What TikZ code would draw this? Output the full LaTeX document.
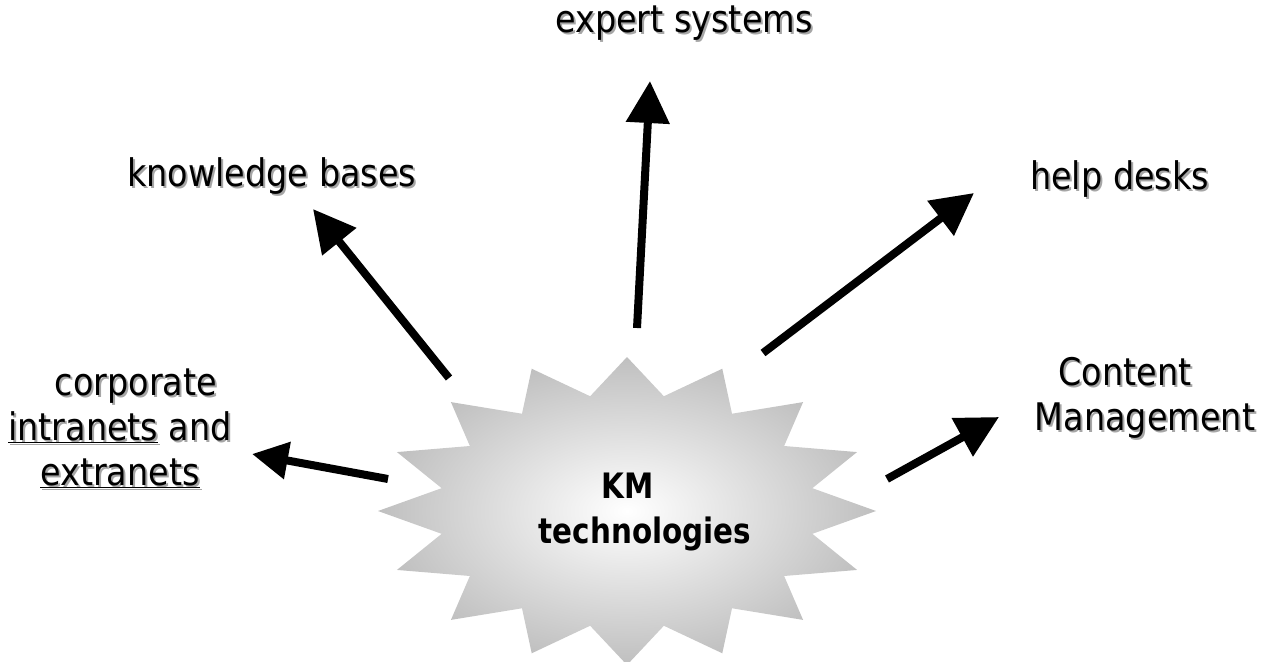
\documentclass[tikz,border=0pt]{standalone}
\usepackage{fontspec}
\setmainfont{DejaVu Sans}[FakeStretch=0.88]
\newfontfamily\kmfont{DejaVu Sans}[FakeStretch=0.84]
\usetikzlibrary{arrows.meta,calc}
\newcommand\shd[1]{\leavevmode\rlap{\kern2pt\raisebox{-2pt}{\textcolor{black!35}{#1}}}#1}
\tikzset{
  lbl/.style={font=\fontsize{38pt}{45pt}\selectfont, inner sep=0pt, align=center},
  arr/.style={line width=8pt, -{Triangle[length=42pt,width=42pt]}},
  arrsmall/.style={line width=8pt, -{Triangle[length=36pt,width=36pt]}},
}
\begin{document}
\begin{tikzpicture}[x=1pt,y=-1pt]
\useasboundingbox (0,0) rectangle (1276,661);
% star burst
\shade[inner color=white, outer color=black!25]
  (627+249,511)
  \foreach \k in {0,...,15}{
    -- ({627+189*cos(\k*22.5+11.25)},{511+117*sin(\k*22.5+11.25)})
    -- ({627+249*cos(\k*22.5+22.5)},{511+154*sin(\k*22.5+22.5)})
  } -- cycle;
\node[font=\kmfont\bfseries\fontsize{35pt}{45pt}\selectfont, align=center, anchor=base, inner sep=0pt] (km) at (645,543) {KM\hspace*{34pt}\\technologies};
% labels
\node[lbl, anchor=base west] (es) at (555,33) {\shd{expert systems}};
\node[lbl, anchor=base west] (kb) at (127,186) {\shd{knowledge bases}};
\node[lbl, anchor=base west] (hd) at (1030,189) {\shd{help desks}};
\node[lbl, anchor=base] (ci) at (120,485) {\hspace*{32pt}\shd{corporate}\\\shd{\underline{intranets} and}\\\shd{\underline{extranets}}};
\node[lbl, anchor=base] (cm) at (1145,430) {\shd{Content}\hspace*{40pt}\\\shd{Management}};
% arrow endpoints
\coordinate (sEs) at (637,328); \coordinate (tEs) at (650,81);
\coordinate (sKb) at (449,378); \coordinate (tKb) at (313,209);
\coordinate (sHd) at (763,353); \coordinate (tHd) at (974,193);
\coordinate (sCi) at (388,479); \coordinate (tCi) at (252,454);
\coordinate (sCm) at (887,479); \coordinate (tCm) at (999,417);
\draw[arr] (sEs) -- (tEs);
\draw[arr] (sKb) -- (tKb);
\draw[arr] (sHd) -- (tHd);
\draw[arrsmall] (sCi) -- (tCi);
\draw[arr] (sCm) -- (tCm);
\end{tikzpicture}
\end{document}
